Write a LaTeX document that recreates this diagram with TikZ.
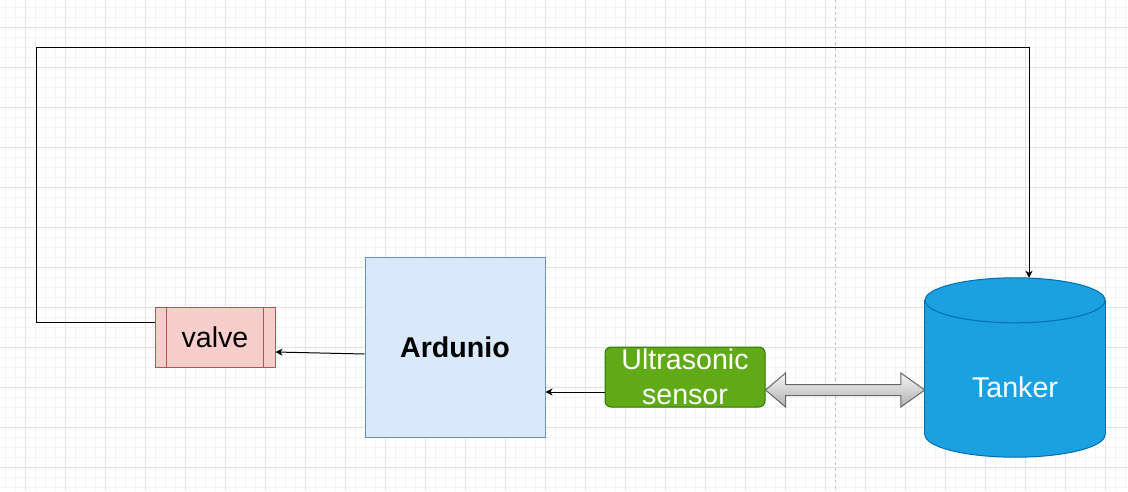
\documentclass[tikz,border=0pt]{standalone}
\usepackage{fontspec}
\setmainfont{Liberation Sans}
\usetikzlibrary{calc,arrows.meta}
\definecolor{valvefill}{HTML}{F8CECC}
\definecolor{valveline}{HTML}{B85450}
\definecolor{ardfill}{HTML}{DAE8FC}
\definecolor{ardline}{HTML}{6C8EBF}
\definecolor{usfill}{HTML}{60A917}
\definecolor{usline}{HTML}{2D7600}
\definecolor{tankfill}{HTML}{1BA1E2}
\definecolor{tankline}{HTML}{006EAF}
\definecolor{gridminor}{HTML}{F4F4F4}
\definecolor{gridmajor}{HTML}{E2E2E2}
\definecolor{dashcol}{HTML}{C4C4C4}
\definecolor{arrline}{HTML}{666666}
\definecolor{arrtop}{HTML}{F5F5F5}
\definecolor{arrbot}{HTML}{B0B0B0}
\begin{document}
\begin{tikzpicture}[x=1pt,y=-1pt,
  txt/.style={font=\fontsize{28.6}{35}\selectfont},
  valvebox/.style={txt,draw=valveline,fill=valvefill,line width=1pt,minimum width=120pt,minimum height=60pt,inner sep=0pt},
  ardbox/.style={txt,draw=ardline,fill=ardfill,line width=1pt,minimum width=180pt,minimum height=180pt,inner sep=0pt},
  usbox/.style={txt,draw=usline,fill=usfill,text=white,line width=1pt,rounded corners=6pt,minimum width=160pt,minimum height=60pt,inner sep=0pt,align=center},
  tankbox/.style={minimum width=180pt,minimum height=179pt,inner sep=0pt},
  conn/.style={draw=black,line width=1pt,-{Stealth[length=7pt,width=7pt,inset=2pt]}}]
\useasboundingbox (0,0) rectangle (1128,491);
\fill[white] (0,0) rectangle (1128,491);
% grid
\foreach \x in {5,15,...,1125} \draw[gridminor,line width=0.8pt] (\x,0) -- (\x,491);
\foreach \y in {7,17,...,487} \draw[gridminor,line width=0.8pt] (0,\y) -- (1128,\y);
\foreach \x in {25,65,...,1105} \draw[gridmajor,line width=0.8pt] (\x,0) -- (\x,491);
\foreach \y in {27,67,...,467} \draw[gridmajor,line width=0.8pt] (0,\y) -- (1128,\y);
\draw[dashcol,line width=0.8pt,dash pattern=on 3pt off 3pt] (835.5,0) -- (835.5,491);
% nodes
\node[valvebox] (valve) at (215,337) {valve};
\draw[valveline,line width=1pt] ($(valve.north west)+(12,0)$) -- ($(valve.south west)+(12,0)$);
\draw[valveline,line width=1pt] ($(valve.north east)+(-12,0)$) -- ($(valve.south east)+(-12,0)$);
\node[ardbox] (ard) at (455,347) {\bfseries Ardunio};
\node[usbox] (us) at (685,377) {Ultrasonic\\sensor};
\node[tankbox] (tank) at (1015,367.5) {};
% tank cylinder
\draw[tankline,fill=tankfill,line width=1pt] ($(tank.south)+(0,-22.5)$) ellipse (90 and 22.5);
\fill[tankfill] ($(tank.north west)+(0,22.5)$) rectangle ($(tank.south east)+(0,-22.5)$);
\draw[tankline,line width=1pt] ($(tank.north west)+(0,22.5)$) -- ($(tank.south west)+(0,-22.5)$);
\draw[tankline,line width=1pt] ($(tank.north east)+(0,22.5)$) -- ($(tank.south east)+(0,-22.5)$);
\draw[tankline,fill=tankfill,line width=1pt] ($(tank.north)+(0,22.5)$) ellipse (90 and 22.5);
\node[txt,text=white] (tanklabel) at ($(tank.center)+(0,20)$) {Tanker};
% double arrow between sensor and tank
\coordinate (dl) at (us.east |- 0,390);
\coordinate (dr) at (tank.west |- 0,390);
\path[draw=arrline,line width=1pt,top color=arrtop,bottom color=arrbot,line join=miter]
  (dl) -- ($(dl)+(20,-17)$) -- ($(dl)+(20,-5.5)$) -- ($(dr)+(-24,-5.5)$) -- ($(dr)+(-24,-17)$)
  -- (dr) -- ($(dr)+(-24,17)$) -- ($(dr)+(-24,5.5)$) -- ($(dl)+(20,5.5)$) -- ($(dl)+(20,17)$) -- cycle;
% connectors
\draw[conn] (ard.west |- 0,354) -- (valve.east |- 0,352);
\draw[conn] (us.west |- 0,392) -- (ard.east |- 0,392);
\draw[conn] (valve.west |- 0,322) -- (36,322) -- (36,47) -- (1029,47) -- (tank.north -| 1029,0);
\end{tikzpicture}
\end{document}
